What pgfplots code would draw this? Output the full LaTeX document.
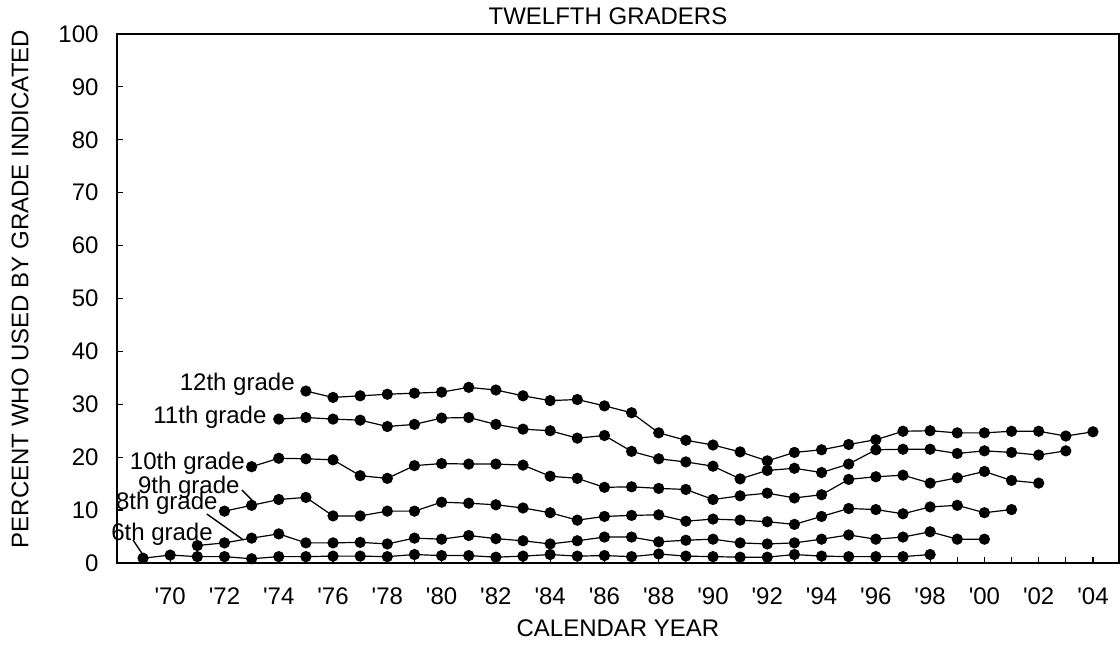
\documentclass[border=0pt]{standalone}
\usepackage{fontspec}
\setmainfont{Liberation Sans}
\usepackage{pgfplots}
\pgfplotsset{compat=1.18}

\pgfplotsset{gradeline/.style={black, line width=0.6pt, mark=*, mark size=2.5pt, mark options={fill=black}}}
\newcommand{\q}{\textquotesingle}

\begin{document}
\begin{tikzpicture}[font=\fontsize{12}{14.4}\selectfont]
\begin{axis}[
  scale only axis,
  width=501pt, height=264.5pt,
  xmin=1968.04, xmax=2004.96,
  ymin=0, ymax=100,
  clip=false,
  axis line style={line width=1.4pt},
  tick align=inside,
  xtick pos=bottom, ytick pos=left,
  major tick length=3pt, minor tick length=3pt,
  every tick/.style={black, line width=0.6pt},
  xtick={1970,1972,...,2004},
  xticklabels={\q70,\q72,\q74,\q76,\q78,\q80,\q82,\q84,\q86,\q88,\q90,\q92,\q94,\q96,\q98,\q00,\q02,\q04},
  minor xtick={1969,1971,...,2003},
  xticklabel style={anchor=base, text height=9pt, yshift=-21pt},
  ytick={0,10,...,100},
  yticklabel style={xshift=-5.7pt},
  /pgf/number format/assume math mode=true,
  title={TWELFTH GRADERS},
  every axis title/.style={at={(axis description cs:0.49,1.034)}, anchor=center},
  xlabel={CALENDAR YEAR},
  xlabel style={at={(axis description cs:0.5,-0.1229)}, anchor=center},
  ylabel={PERCENT WHO USED BY GRADE INDICATED},
  ylabel style={at={(axis description cs:-0.0968,0.518)}, anchor=center},
]
% 12th grade
\addplot[gradeline] coordinates {
(1975,32.5)(1976,31.3)(1977,31.6)(1978,31.9)(1979,32.1)(1980,32.3)(1981,33.2)(1982,32.7)(1983,31.6)(1984,30.7)
(1985,30.9)(1986,29.7)(1987,28.4)(1988,24.6)(1989,23.2)(1990,22.3)(1991,21.0)(1992,19.3)(1993,20.9)(1994,21.4)
(1995,22.4)(1996,23.3)(1997,24.9)(1998,25.0)(1999,24.6)(2000,24.6)(2001,24.9)(2002,24.9)(2003,24.0)(2004,24.8)};
% 11th grade
\addplot[gradeline] coordinates {
(1974,27.2)(1975,27.5)(1976,27.2)(1977,27.0)(1978,25.8)(1979,26.2)(1980,27.4)(1981,27.5)(1982,26.2)(1983,25.3)
(1984,25.0)(1985,23.6)(1986,24.1)(1987,21.1)(1988,19.7)(1989,19.1)(1990,18.3)(1991,15.9)(1992,17.5)(1993,17.9)
(1994,17.1)(1995,18.7)(1996,21.4)(1997,21.5)(1998,21.5)(1999,20.7)(2000,21.2)(2001,20.9)(2002,20.4)(2003,21.2)};
% 10th grade
\addplot[gradeline] coordinates {
(1973,18.2)(1974,19.8)(1975,19.7)(1976,19.5)(1977,16.5)(1978,16.0)(1979,18.4)(1980,18.8)(1981,18.7)(1982,18.7)
(1983,18.5)(1984,16.4)(1985,16.0)(1986,14.3)(1987,14.4)(1988,14.1)(1989,13.9)(1990,12.0)(1991,12.7)(1992,13.2)
(1993,12.3)(1994,12.9)(1995,15.8)(1996,16.3)(1997,16.6)(1998,15.1)(1999,16.1)(2000,17.3)(2001,15.6)(2002,15.1)};
% 9th grade
\addplot[gradeline] coordinates {
(1972,9.8)(1973,10.9)(1974,12.0)(1975,12.4)(1976,8.9)(1977,8.9)(1978,9.8)(1979,9.8)(1980,11.5)(1981,11.3)
(1982,11.0)(1983,10.4)(1984,9.5)(1985,8.1)(1986,8.8)(1987,9.0)(1988,9.1)(1989,7.9)(1990,8.3)(1991,8.1)
(1992,7.8)(1993,7.3)(1994,8.8)(1995,10.3)(1996,10.1)(1997,9.3)(1998,10.6)(1999,10.9)(2000,9.5)(2001,10.1)};
% 8th grade
\addplot[gradeline] coordinates {
(1971,3.3)(1972,3.8)(1973,4.7)(1974,5.5)(1975,3.8)(1976,3.8)(1977,3.9)(1978,3.6)(1979,4.7)(1980,4.5)
(1981,5.2)(1982,4.6)(1983,4.2)(1984,3.6)(1985,4.2)(1986,4.9)(1987,4.9)(1988,4.0)(1989,4.3)(1990,4.5)
(1991,3.8)(1992,3.6)(1993,3.8)(1994,4.5)(1995,5.3)(1996,4.5)(1997,4.9)(1998,5.9)(1999,4.5)(2000,4.5)};
% 6th grade
\addplot[gradeline] coordinates {
(1969,0.9)(1970,1.5)(1971,1.2)(1972,1.2)(1973,0.8)(1974,1.2)(1975,1.2)(1976,1.3)(1977,1.3)(1978,1.2)
(1979,1.6)(1980,1.4)(1981,1.4)(1982,1.1)(1983,1.3)(1984,1.6)(1985,1.3)(1986,1.4)(1987,1.2)(1988,1.7)
(1989,1.3)(1990,1.2)(1991,1.1)(1992,1.1)(1993,1.6)(1994,1.3)(1995,1.2)(1996,1.2)(1997,1.2)(1998,1.6)};

% grade labels
\node[anchor=east, inner sep=0pt] at (axis cs:1974.60,33.7) {12th grade};
\node[anchor=east, inner sep=0pt] at (axis cs:1973.56,27.6) {11th grade};
\node[anchor=east, inner sep=0pt] at (axis cs:1972.76,18.9) {10th grade};
\node[anchor=east, inner sep=0pt] at (axis cs:1972.57,14.4) {9th grade};
\node[anchor=east, inner sep=0pt] at (axis cs:1971.76,11.3) {8th grade};
\node[anchor=east, inner sep=0pt] at (axis cs:1971.58,5.5) {6th grade};
\draw[black, line width=0.7pt] (axis cs:1972.64,13.8) -- (axis cs:1973.07,11.6);
\draw[black, line width=0.7pt] (axis cs:1971.35,9.26) -- (axis cs:1972.70,4.35);
\draw[black, line width=0.7pt] (axis cs:1968.63,4.35) -- (axis cs:1969.0,1.5);
\end{axis}
\pgfresetboundingbox
\path[use as bounding box] ([shift={(-58.5pt,-41pt)}]current axis.south west) rectangle ([shift={(0.5pt,17pt)}]current axis.north east);
\end{tikzpicture}
\end{document}
